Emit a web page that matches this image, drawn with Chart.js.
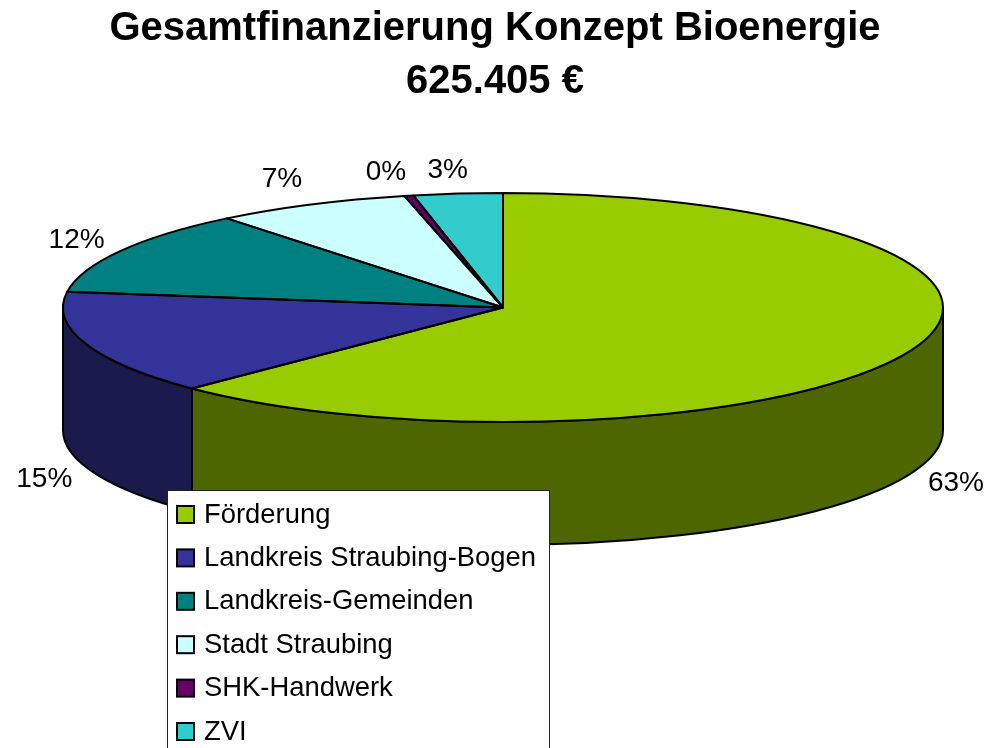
<!DOCTYPE html>
<html>
<head>
<meta charset="utf-8">
<title>Gesamtfinanzierung Konzept Bioenergie</title>
<script src="https://cdn.jsdelivr.net/npm/chart.js@4"></script>
<style>
  html, body { margin: 0; padding: 0; background: #fff; overflow: hidden; }
  canvas { display: block; }
</style>
</head>
<body>
<canvas id="myChart" width="996" height="748"></canvas>
<script>
var titleLines = ['Gesamtfinanzierung Konzept Bioenergie', '625.405 €'];
var categories = ['Förderung', 'Landkreis Straubing-Bogen', 'Landkreis-Gemeinden', 'Stadt Straubing', 'SHK-Handwerk', 'ZVI'];
var shares = [62.5, 14.7, 12.0, 7.2, 0.33, 3.27];
var colors = ['#99CC00', '#333399', '#008080', '#CCFFFF', '#660066', '#33CCCC'];

var fontName = '"Liberation Sans", Arial, sans-serif';

// pie look: flattened disc with a wall below it
var pieX = 503, pieY = 307.5, radiusX = 440, radiusY = 114.5, wall = 123;

// small hand corrections for the percent labels
var nudgeX = [1, 2, 4, 4, -6, -2];
var nudgeY = [0, 5, 1, -4, 0, 0];

function darker(hex) {
    var n = parseInt(hex.slice(1), 16);
    var r = Math.round((n >> 16) / 2), g = Math.round(((n >> 8) & 255) / 2), b = Math.round((n & 255) / 2);
    return 'rgb(' + r + ',' + g + ',' + b + ')';
}

function arcsOf(chart) {
    return chart.getDatasetMeta(0).data.map(function (el) {
        return el.getProps(['x', 'y', 'startAngle', 'endAngle'], true);
    });
}

var pie3d = {
    id: 'pie3d',
    afterLayout: function (chart) {
        // title sits a little left of the page centre
        chart.titleBlock.left -= 6;
    },
    beforeDatasetsDraw: function (chart) {
        var ctx = chart.ctx;
        var arcs = arcsOf(chart);

        // walls, only the front half of the disc shows them
        ctx.save();
        ctx.strokeStyle = '#000';
        ctx.lineWidth = 2;
        arcs.forEach(function (a, i) {
            var from = Math.max(a.startAngle, 0), to = Math.min(a.endAngle, Math.PI);
            if (to <= from) return;
            ctx.beginPath();
            ctx.ellipse(pieX, pieY, radiusX, radiusY, 0, from, to);
            ctx.ellipse(pieX, pieY + wall, radiusX, radiusY, 0, to, from, true);
            ctx.closePath();
            ctx.fillStyle = darker(colors[i]);
            ctx.fill();
            ctx.stroke();
        });
        ctx.restore();

        // the library's arcs get squashed onto the top of the disc
        ctx.save();
        ctx.translate(pieX, pieY);
        ctx.scale(1, radiusY / radiusX);
        ctx.translate(-arcs[0].x, -arcs[0].y);
    },
    afterDatasetsDraw: function (chart) {
        var ctx = chart.ctx;
        ctx.restore();

        ctx.save();
        ctx.strokeStyle = '#000';
        ctx.lineWidth = 2;
        ctx.lineJoin = 'round';
        arcsOf(chart).forEach(function (a) {
            ctx.beginPath();
            ctx.moveTo(pieX, pieY);
            ctx.ellipse(pieX, pieY, radiusX, radiusY, 0, a.startAngle, a.endAngle);
            ctx.closePath();
            ctx.stroke();
        });
        ctx.restore();
    },
    afterDraw: function (chart) {
        var ctx = chart.ctx;
        var arcs = arcsOf(chart);

        // percent labels around the disc
        ctx.save();
        ctx.font = '28px ' + fontName;
        ctx.fillStyle = '#000';
        ctx.textAlign = 'center';
        ctx.textBaseline = 'middle';
        arcs.forEach(function (a, i) {
            var mid = (a.startAngle + a.endAngle) / 2;
            var s = Math.abs(Math.sin(mid));
            var x = pieX + (470 + 50 * s) * Math.cos(mid) + nudgeX[i];
            var y = pieY + 138 * Math.sin(mid) + (Math.sin(mid) > 0 ? wall : 0) + nudgeY[i];
            ctx.fillText(Math.round(shares[i]) + '%', x, y);
        });
        ctx.restore();

        // legend box runs off the bottom of the page
        ctx.save();
        ctx.fillStyle = '#fff';
        ctx.strokeStyle = '#222';
        ctx.lineWidth = 1;
        ctx.fillRect(168, 490, 381, 270);
        ctx.strokeRect(167.5, 490.5, 382, 270);
        ctx.font = '27.4px ' + fontName;
        ctx.textAlign = 'left';
        ctx.textBaseline = 'middle';
        categories.forEach(function (name, i) {
            var y = 505 + i * 43.4;
            ctx.fillStyle = colors[i];
            ctx.fillRect(177, y + 1, 17, 17);
            ctx.strokeStyle = '#000';
            ctx.lineWidth = 2;
            ctx.strokeRect(177, y + 1, 17, 17);
            ctx.fillStyle = '#000';
            ctx.fillText(name, 204, y + 10);
        });
        ctx.restore();
    }
};

var myChart = new Chart(document.getElementById('myChart'), {
    type: 'pie',
    data: {
        labels: categories,
        datasets: [{
            data: shares,
            backgroundColor: colors,
            borderWidth: 0,
            radius: radiusX,
            clip: false
        }]
    },
    options: {
        responsive: false,
        animation: false,
        events: [],
        plugins: {
            legend: { display: false },
            tooltip: { enabled: false },
            title: {
                display: true,
                text: titleLines,
                color: '#000',
                font: { family: fontName, size: 40, weight: 'bold', lineHeight: 1.32 },
                padding: { top: 3, bottom: 0 }
            }
        }
    },
    plugins: [pie3d]
});
</script>
</body>
</html>
